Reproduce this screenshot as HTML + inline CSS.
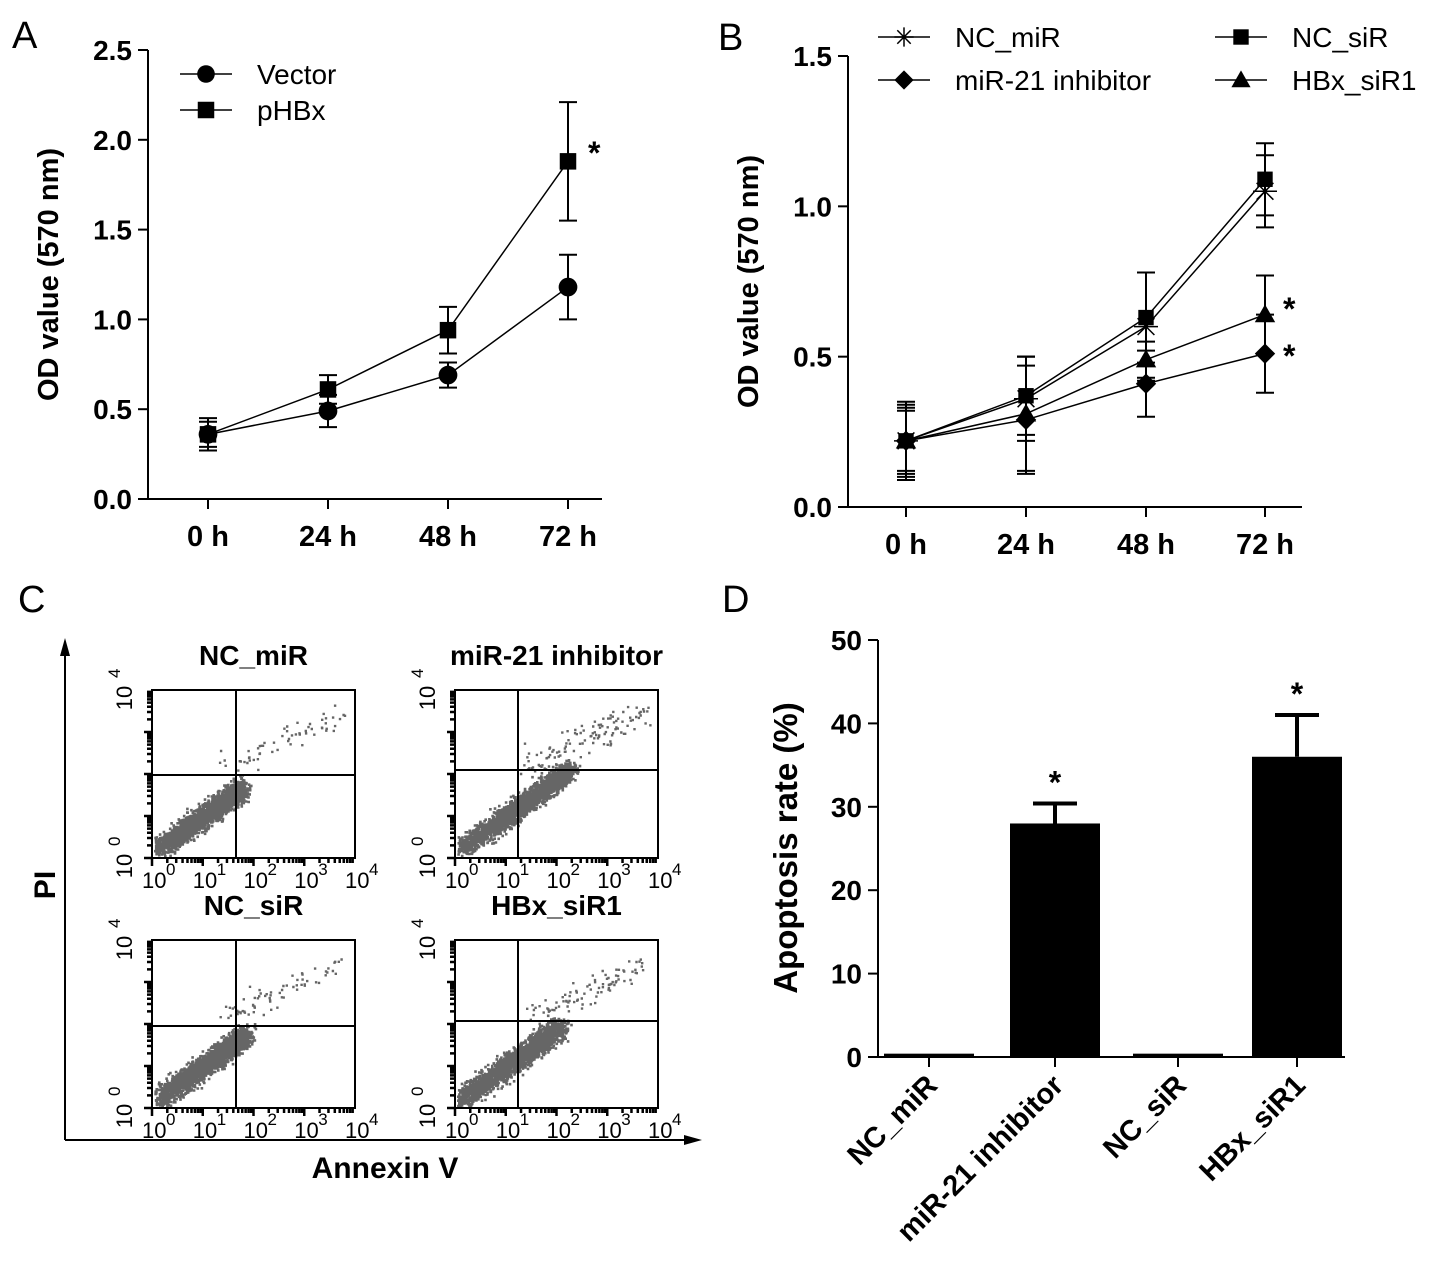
<!DOCTYPE html>
<html><head><meta charset="utf-8">
<style>
html,body{margin:0;padding:0;background:#fff;}
svg{display:block;font-family:"Liberation Sans",Arial,sans-serif;}
text{fill:#000;}
</style></head>
<body>
<svg id="fig" width="1441" height="1281" viewBox="0 0 1441 1281" xmlns="http://www.w3.org/2000/svg">
<text x="12" y="48" font-size="38">A</text>
<text x="718" y="50" font-size="38">B</text>
<text x="18" y="612" font-size="38">C</text>
<text x="722" y="612" font-size="38">D</text>
<g id="A"></g>
<g id="B"></g>
<g id="C"></g>
<g id="D"></g>
</svg>
<script>
// ---- Panel A data ----
const timeLabels = ["0 h","24 h","48 h","72 h"];
const aTicks = [0.0,0.5,1.0,1.5,2.0,2.5];
const vectorVals = [0.36,0.49,0.69,1.18];
const vectorErr = [0.09,0.09,0.07,0.18];
const phbxVals = [0.36,0.61,0.94,1.88];
const phbxErr = [0.07,0.08,0.13,0.33];
// ---- Panel B data ----
const bTicks = [0.0,0.5,1.0,1.5];
const ncMirVals = [0.22,0.36,0.60,1.05];
const ncMirErr = [0.13,0.14,0.18,0.12];
const ncSirVals = [0.22,0.37,0.63,1.09];
const ncSirErr = [0.12,0.13,0.15,0.12];
const inhVals = [0.22,0.29,0.41,0.51];
const inhErr = [0.11,0.18,0.11,0.13];
const hbxVals = [0.22,0.31,0.49,0.64];
const hbxErr = [0.10,0.19,0.06,0.13];
// ---- Panel D data ----
const dCats = ["NC_miR","miR-21 inhibitor","NC_siR","HBx_siR1"];
const dVals = [0.4,28,0.4,36];
const dErr = [0,2.4,0,5];
const dSig = [false,true,false,true];
const dTicks = [0,10,20,30,40,50];

const NS="http://www.w3.org/2000/svg";
function mk(parent,tag,attrs,name,txt){
  const e=document.createElementNS(NS,tag);
  for(const k in attrs) e.setAttribute(k,attrs[k]);
  
  
  if(txt!==undefined) e.textContent=txt;
  parent.appendChild(e); return e;
}
function marker(g,type,x,y,s,name){
  if(type==='circle') return mk(g,'circle',{cx:x,cy:y,r:s*0.55},name);
  if(type==='square') return mk(g,'rect',{x:x-s*0.55,y:y-s*0.55,width:s*1.1,height:s*1.1},name);
  if(type==='diamond') return mk(g,'polygon',{points:`${x},${y-s*0.6} ${x+s*0.6},${y} ${x},${y+s*0.6} ${x-s*0.6},${y}`},name);
  if(type==='triangle') return mk(g,'polygon',{points:`${x},${y-s*0.6} ${x+s*0.6},${y+s*0.45} ${x-s*0.6},${y+s*0.45}`},name);
  if(type==='star'){
    const r=s*0.6;
    return mk(g,'path',{d:`M${x-r} ${y}H${x+r}M${x} ${y-r}V${y+r}M${x-r*0.7} ${y-r*0.7}L${x+r*0.7} ${y+r*0.7}M${x+r*0.7} ${y-r*0.7}L${x-r*0.7} ${y+r*0.7}`,stroke:'#000','stroke-width':1.5,fill:'none'},name);
  }
}
function lineChart(g,cfg){
  const {x0,x1,yTop,yBot,max,ticks,xs,series,ylab,ylx}=cfg;
  const ys=v=>yBot-(v/max)*(yBot-yTop);
  mk(g,'line',{x1:x0,y1:yTop,x2:x0,y2:yBot,stroke:'#000','stroke-width':2},'y-axis');
  mk(g,'line',{x1:x0,y1:yBot,x2:x1,y2:yBot,stroke:'#000','stroke-width':2},'x-axis');
  ticks.forEach(t=>{
    const y=ys(t);
    mk(g,'line',{x1:x0-10,y1:y,x2:x0,y2:y,stroke:'#000','stroke-width':2},'y-tick');
    mk(g,'text',{x:x0-16,y:y+10,'font-size':28,'font-weight':'bold','text-anchor':'end'},'y-tick-label',t.toFixed(1));
  });
  xs.forEach((x,i)=>{
    mk(g,'line',{x1:x,y1:yBot,x2:x,y2:yBot+10,stroke:'#000','stroke-width':2},'x-tick');
    mk(g,'text',{x:x,y:yBot+47,'font-size':29,'font-weight':'bold','text-anchor':'middle'},'x-tick-label',timeLabels[i]);
  });
  const cy=(yTop+yBot)/2;
  mk(g,'text',{x:ylx,y:cy,'font-size':29,'font-weight':'bold','text-anchor':'middle',transform:`rotate(-90 ${ylx} ${cy})`},'y-axis-title',ylab);
  series.forEach(s=>{
    const sg=mk(g,'g',{},'series-'+s.name);
    const pts=s.vals.map((v,i)=>`${xs[i]},${ys(v)}`).join(' ');
    mk(sg,'polyline',{points:pts,fill:'none',stroke:'#000','stroke-width':1.5},'line-'+s.name);
    s.vals.forEach((v,i)=>{
      const x=xs[i],yh=ys(v+s.err[i]),yl=ys(v-s.err[i]);
      mk(sg,'path',{d:`M${x} ${yh}V${yl}M${x-9} ${yh}H${x+9}M${x-9} ${yl}H${x+9}`,stroke:'#000','stroke-width':2,fill:'none'},'error-bar');
      marker(sg,s.type,x,ys(v),s.size,'point-'+s.name);
    });
  });
  return ys;
}
// Panel A
const A=document.getElementById('A');
lineChart(A,{x0:148,x1:602,yTop:50,yBot:499,max:2.5,ticks:aTicks,xs:[208,328,448,568],
 series:[{name:'vector',vals:vectorVals,err:vectorErr,type:'circle',size:17},{name:'phbx',vals:phbxVals,err:phbxErr,type:'square',size:15}],
 ylab:'OD value (570 nm)',ylx:58});
mk(A,'line',{x1:180,y1:74,x2:232,y2:74,stroke:'#000','stroke-width':1.5},'legend-line-vector');
marker(A,'circle',206,74,16,'legend-marker-vector');
mk(A,'text',{x:257,y:84,'font-size':28},'legend-vector','Vector');
mk(A,'line',{x1:180,y1:110,x2:232,y2:110,stroke:'#000','stroke-width':1.5},'legend-line-phbx');
marker(A,'square',206,110,15,'legend-marker-phbx');
mk(A,'text',{x:257,y:120,'font-size':28},'legend-phbx','pHBx');
mk(A,'text',{x:588,y:164,'font-size':32,'font-weight':'bold'},'significance-star','*');
// Panel B
const B=document.getElementById('B');
lineChart(B,{x0:848,x1:1302,yTop:56,yBot:507,max:1.5,ticks:bTicks,xs:[906,1026,1146,1265],
 series:[{name:'nc-mir',vals:ncMirVals,err:ncMirErr,type:'star',size:20},{name:'mir21-inhibitor',vals:inhVals,err:inhErr,type:'diamond',size:17},{name:'hbx-sir1',vals:hbxVals,err:hbxErr,type:'triangle',size:17},{name:'nc-sir',vals:ncSirVals,err:ncSirErr,type:'square',size:14}],
 ylab:'OD value (570 nm)',ylx:758});
[[878,37,'star','NC_miR'],[878,80,'diamond','miR-21 inhibitor'],[1215,37,'square','NC_siR'],[1215,80,'triangle','HBx_siR1']].forEach(l=>{
  mk(B,'line',{x1:l[0],y1:l[1],x2:l[0]+52,y2:l[1],stroke:'#000','stroke-width':1.5},'legend-line');
  marker(B,l[2],l[0]+26,l[1],l[2]==='square'?14:16,'legend-marker');
  mk(B,'text',{x:l[0]+77,y:l[1]+10,'font-size':28},'legend-entry',l[3]);
});
mk(B,'text',{x:1283,y:320,'font-size':32,'font-weight':'bold'},'significance-star','*');
mk(B,'text',{x:1283,y:367,'font-size':32,'font-weight':'bold'},'significance-star','*');
// Panel D
const D=document.getElementById('D');
const dx0=878,dyTop=640,dyBot=1057,dmax=50;
const ysD=v=>dyBot-(v/dmax)*(dyBot-dyTop);
const dCenters=[929,1055,1178,1297];
mk(D,'line',{x1:dx0,y1:dyTop,x2:dx0,y2:dyBot,stroke:'#000','stroke-width':2},'y-axis');
mk(D,'line',{x1:dx0,y1:dyBot,x2:1345,y2:dyBot,stroke:'#000','stroke-width':2},'x-axis');
dTicks.forEach(t=>{
  mk(D,'line',{x1:dx0-10,y1:ysD(t),x2:dx0,y2:ysD(t),stroke:'#000','stroke-width':2},'y-tick');
  mk(D,'text',{x:dx0-16,y:ysD(t)+10,'font-size':28,'font-weight':'bold','text-anchor':'end'},'y-tick-label',t);
});
mk(D,'text',{x:797,y:848,'font-size':33,'font-weight':'bold','text-anchor':'middle',transform:'rotate(-90 797 848)'},'y-axis-title','Apoptosis rate (%)');
dVals.forEach((v,i)=>{
  const c=dCenters[i],w=90;
  mk(D,'rect',{x:c-w/2,y:ysD(v),width:w,height:dyBot-ysD(v),fill:'#000'},'bar-'+i);
  if(dErr[i]>0){
    const yh=ysD(v+dErr[i]);
    mk(D,'path',{d:`M${c} ${ysD(v)}V${yh}M${c-22} ${yh}H${c+22}`,stroke:'#000','stroke-width':4,fill:'none'},'error-bar');
  }
  if(dSig[i]) mk(D,'text',{x:c,y:ysD(v+dErr[i])-10,'font-size':32,'font-weight':'bold','text-anchor':'middle'},'significance-star','*');
  mk(D,'line',{x1:c,y1:dyBot,x2:c,y2:dyBot+10,stroke:'#000','stroke-width':2},'x-tick');
  mk(D,'text',{x:c+10,y:dyBot+30,'font-size':29,'font-weight':'bold','text-anchor':'end',transform:`rotate(-45 ${c+10} ${dyBot+30})`},'x-tick-label',dCats[i]);
});
// Panel C flow cytometry
const C=document.getElementById('C');
mk(C,'path',{d:'M65 1140V645M65 1140H695',stroke:'#000','stroke-width':2,fill:'none'},'outer-axes');
mk(C,'polygon',{points:'65,638 60,656 70,656'},'y-arrow');
mk(C,'polygon',{points:'702,1140 684,1135 684,1145'},'x-arrow');
mk(C,'text',{x:55,y:885,'font-size':30,'font-weight':'bold','text-anchor':'middle',transform:'rotate(-90 55 885)'},'y-axis-title','PI');
mk(C,'text',{x:385,y:1178,'font-size':30,'font-weight':'bold','text-anchor':'middle'},'x-axis-title','Annexin V');
let seed=7;function rnd(){seed=(seed*16807)%2147483647;return seed/2147483647;}
function gauss(){return (rnd()+rnd()+rnd()-1.5)/1.5;}
const plots=[{t:'NC_miR',x:152,y:690,vx:236,hy:775,spread:1.0,up:60},{t:'miR-21 inhibitor',x:455,y:690,vx:518,hy:770,spread:1.3,up:120},
 {t:'NC_siR',x:152,y:940,vx:236,hy:1026,spread:1.05,up:70},{t:'HBx_siR1',x:455,y:940,vx:518,hy:1021,spread:1.2,up:90}];
plots.forEach(p=>{
  const g=mk(C,'g',{},'flow-plot');
  const W=203,H=168;
  mk(g,'text',{x:p.x+W/2,y:p.y-25,'font-size':28,'font-weight':'bold','text-anchor':'middle'},'plot-title',p.t);
  let d='';
  for(let i=0;i<2200;i++){
    const u=Math.pow(rnd(),0.8);
    const x=p.x+4+u*85*p.spread+gauss()*14;
    const y=p.y+H-8-u*62*p.spread+gauss()*16;
    if(x>p.x+2&&x<p.x+W-2&&y>p.y+2&&y<p.y+H-3) d+=`M${x.toFixed(1)} ${y.toFixed(1)}h2.6v2.6h-2.6z`;
  }
  for(let i=0;i<p.up;i++){
    const f=rnd();
    const x=p.x+70+f*120+gauss()*12, y=p.y+75-f*50+gauss()*22;
    if(y>p.y+4) d+=`M${x.toFixed(1)} ${y.toFixed(1)}h2.4v2.4h-2.4z`;
  }
  mk(g,'path',{d:d,fill:'#666'},'scatter-points');
  mk(g,'rect',{x:p.x,y:p.y,width:W,height:H,fill:'none',stroke:'#000','stroke-width':2},'plot-frame');
  mk(g,'path',{d:`M${p.vx} ${p.y}V${p.y+H}M${p.x} ${p.hy}H${p.x+W}`,stroke:'#000','stroke-width':2},'quadrant-lines');
  let tk='';
  for(let k=0;k<4;k++) for(let m=1;m<10;m++){
    const f=(k+Math.log10(m))/4;
    const L=m===1?8:5;
    tk+=`M${p.x+f*W} ${p.y+H}v${L}M${p.x} ${p.y+H-f*H}h${-L}`;
  }
  mk(g,'path',{d:tk,stroke:'#000','stroke-width':2.5},'log-ticks');
  for(let k=0;k<=4;k++){
    const tx=p.x+k*W/4;
    mk(g,'text',{x:tx-10,y:p.y+H+30,'font-size':22},'x-tick-label','10');
    mk(g,'text',{x:tx+14,y:p.y+H+17,'font-size':17},'x-tick-exp',String(k));
  }
  [0,4].forEach(k=>{
    const ty=p.y+H-k*H/4, lx=p.x-20;
    mk(g,'text',{x:lx,y:ty+8,'font-size':22,transform:`rotate(-90 ${lx} ${ty+8})`,'text-anchor':'middle'},'y-tick-label','10');
    mk(g,'text',{x:lx-12,y:ty-12,'font-size':17,transform:`rotate(-90 ${lx-12} ${ty-12})`},'y-tick-exp',String(k));
  });
});
</script>
</body></html>
